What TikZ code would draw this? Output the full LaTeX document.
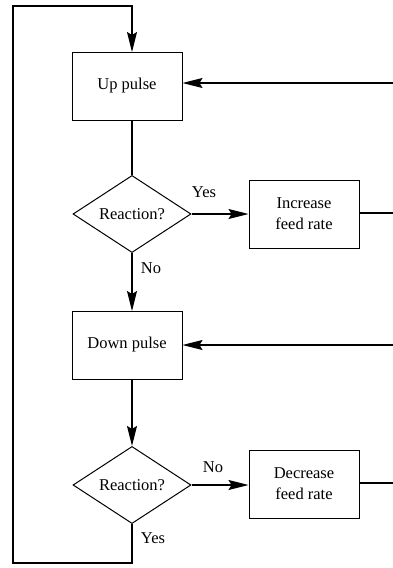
\documentclass[tikz,border=0pt]{standalone}
\usepackage{fontspec}
\setmainfont{Liberation Serif}
\usetikzlibrary{shapes.geometric,arrows.meta}
\begin{document}
\begin{tikzpicture}[x=1pt,y=-1pt,
  every node/.style={font=\fontsize{16.5}{21}\selectfont},
  procbox/.style={draw,line width=1pt,minimum width=110pt,minimum height=68pt,inner sep=0pt,align=center},
  decision/.style={draw,line width=1pt,diamond,minimum width=118pt,minimum height=66pt,inner sep=0pt},
  lbl/.style={inner sep=0pt},
  conn/.style={line width=1.2pt},
  arr/.style={conn,-{Stealth[length=20pt,width=10pt,inset=3pt]}}]
\useasboundingbox (0,0) rectangle (393,568);
\node[procbox] (up) at (127,86) {Up pulse};
\node[decision] (d1) at (132,214) {Reaction?};
\node[procbox] (inc) at (304,214) {Increase\\feed rate};
\node[procbox] (down) at (127,345) {Down pulse};
\node[decision] (d2) at (132,485) {Reaction?};
\node[procbox] (dec) at (304,484) {Decrease\\feed rate};
\coordinate (r1) at (393,83);
\coordinate (r2) at (393,213);
\coordinate (r3) at (393,345);
\coordinate (r4) at (393,483);
\coordinate (bl) at (13,563);
\coordinate (tl) at (13,6);
\coordinate (tr) at (132,6);
\coordinate (upin) at (132,52);
\coordinate (upout) at (132,120);
\coordinate (dnin) at (132,311);
\coordinate (dnout) at (132,379);
\draw[arr] (r1) -- (up.east |- r1);
\draw[conn] (upout) -- (d1.north);
\draw[arr] (d1.east) -- (inc.west);
\draw[conn] (inc.east |- r2) -- (r2);
\draw[arr] (d1.south) -- (dnin);
\draw[arr] (r3) -- (down.east |- r3);
\draw[arr] (dnout) -- (d2.north);
\draw[arr] (d2.east) -- (dec.west |- d2.east);
\draw[conn] (dec.east |- r4) -- (r4);
\draw[arr] (d2.south) |- (bl) -- (tl) -- (tr) -- (upin);
\node[lbl] (y1) at (204,192) {Yes};
\node[lbl] (n1) at (151,268) {No};
\node[lbl] (n2) at (213,467) {No};
\node[lbl] (y2) at (153,538) {Yes};
\end{tikzpicture}
\end{document}
